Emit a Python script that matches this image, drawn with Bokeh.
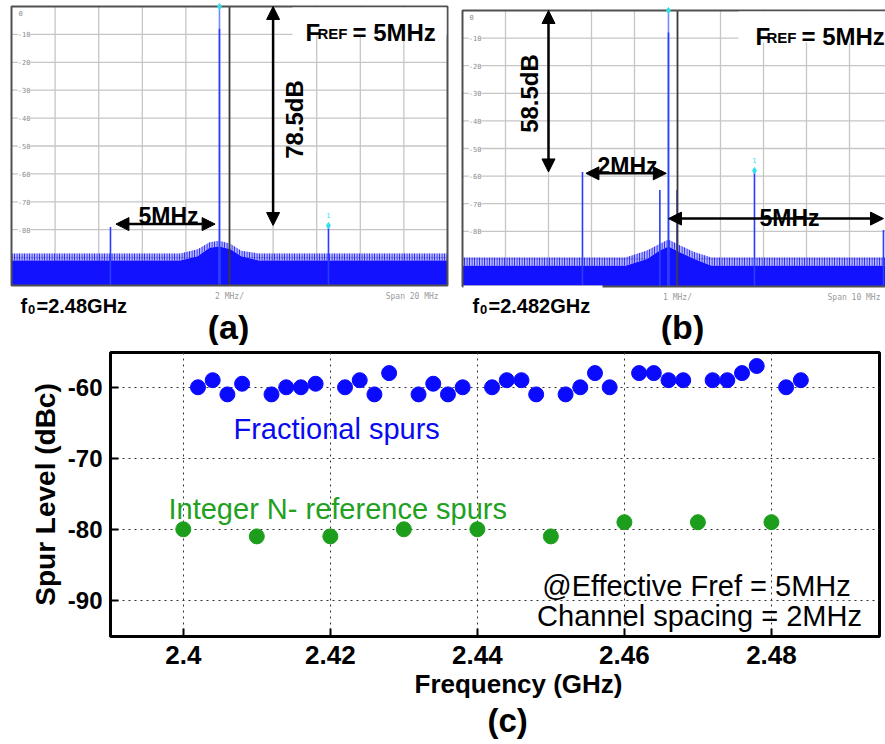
import math
from bokeh.plotting import figure
from bokeh.models import (Range1d, Label, Arrow, NormalHead, BoxAnnotation, FixedTicker, Title)
from bokeh.layouts import column, row
from bokeh.embed import file_html
from bokeh.resources import INLINE

# ---------------- data ----------------
# (a) spectrum, f0 = 2.48 GHz, span 20 MHz (2 MHz/div); x = offset from carrier (MHz), y = dB
a_carrier_level = 0.0
a_spur_offsets = [-5.0, 5.0]
a_spur_levels = [-79.0, -78.5]
a_marker_spur = 1
a_center = 0.46          # display centre relative to carrier (MHz)
a_div = 2.0              # MHz / division
a_noise_x = [-9.54, -1.8, -1.0, -0.45, 0.0, 0.5, 1.0, 1.8, 10.46]
a_noise_solid = [-91.0, -91.0, -89.5, -86.5, -86.0, -87.0, -89.5, -91.0, -91.0]
a_noise_peak = [-88.5, -88.5, -87.0, -84.5, -84.0, -85.0, -87.5, -88.5, -88.5]

# (b) spectrum, f0 = 2.482 GHz, span 10 MHz (1 MHz/div)
b_carrier_level = 0.0
b_spur_offsets = [-2.0, -0.2, 0.2, 2.0, 5.0]
b_spur_levels = [-58.5, -65.0, -65.0, -58.0, -79.5]
b_marker_spur = 3
b_center = 0.21
b_div = 1.0
b_noise_x = [-4.79, -1.0, -0.5, -0.2, 0.0, 0.25, 0.6, 1.0, 5.21]
b_noise_solid = [-92.5, -92.5, -90.0, -87.0, -85.5, -87.5, -90.0, -92.5, -92.5]
b_noise_peak = [-89.5, -89.5, -87.0, -84.5, -83.0, -85.0, -87.5, -89.5, -89.5]

db_ticks = [0, -10, -20, -30, -40, -50, -60, -70, -80, -90]
db_labels = ["0", "-10", "-20", "-30", "-40", "-50", "-60", "-70", "-80"]

# (c) spur level vs frequency
frac_freq = [2.402, 2.404, 2.406, 2.408, 2.412, 2.414, 2.416, 2.418, 2.422, 2.424,
             2.426, 2.428, 2.432, 2.434, 2.436, 2.438, 2.442, 2.444, 2.446, 2.448,
             2.452, 2.454, 2.456, 2.458, 2.462, 2.464, 2.466, 2.468, 2.472, 2.474,
             2.476, 2.478, 2.482, 2.484]
frac_level = [-60, -59, -61, -59.5, -61, -60, -60, -59.5, -60, -59,
              -61, -58, -61, -59.5, -61, -60, -60, -59, -59, -61,
              -61, -60, -58, -60, -58, -58, -59, -59, -59, -59,
              -58, -57, -60, -59]
int_freq = [2.40, 2.41, 2.42, 2.43, 2.44, 2.45, 2.46, 2.47, 2.48]
int_level = [-80, -81, -81, -80, -80, -81, -79, -79, -79]
freq_ticks = [2.40, 2.42, 2.44, 2.46, 2.48]
freq_tick_labels = ["2.4", "2.42", "2.44", "2.46", "2.48"]
level_ticks = [-90, -80, -70, -60]
level_tick_labels = ["-90", "-80", "-70", "-60"]

# ---------------- styles ----------------
NOISE = "#1212ff"
SPUR = "#2a3cff"
CARRIER = "#6e8cff"
CYAN = "#30e0e8"
GRIDC = "#c6c6c6"
FRAME = "#505050"
SANS = "Liberation Sans"
MONO = "DejaVu Sans Mono"

# page-pixel geometry (page has no margin)
A_W, B_W, TOP_H = 455, 430, 345
A_L, A_R, A_T, A_B = 11, 447, 6, 285          # analyzer (a) screen
B_L, B_R, B_T, B_B = 462, 892, 10, 286        # analyzer (b) screen (right edge off page)
C_L, C_R, C_T, C_B = 110, 879, 352, 636       # plot (c) frame

a_x0, a_x1 = a_center - 5 * a_div, a_center + 5 * a_div
b_x0, b_x1 = b_center - 5 * b_div, b_center + 5 * b_div
c_x0, c_x1 = 2.3901, 2.4947
c_y0, c_y1 = -95.1, -55.1


def mk(x0, x1, y0, y1, L, R, T, B):
    def fx(px):
        return x0 + (px - L) * (x1 - x0) / (R - L)

    def fy(py):
        return y1 - (py - T) * (y1 - y0) / (B - T)
    return fx, fy


a_px, a_py = mk(a_x0, a_x1, -100, 0, A_L, A_R, A_T, A_B)
b_px, b_py = mk(b_x0, b_x1, -100, 0, B_L, B_R, B_T, B_B)
c_px, c_py = mk(c_x0, c_x1, c_y0, c_y1, C_L, C_R, C_T, C_B)


def lab(p, x, y, text, size, font=SANS, bold=True, color="black", align="left",
        baseline="alphabetic", angle=0.0, bg=None):
    kw = {}
    if bg is not None:
        kw["background_fill_color"] = bg
    p.add_layout(Label(x=x, y=y, text=text, text_font=font, text_font_size=f"{size}px",
                       text_font_style="bold" if bold else "normal", text_color=color,
                       text_align=align, text_baseline=baseline, angle=angle, **kw))


def arrow(p, xs, ys, xe, ye):
    p.add_layout(Arrow(start=NormalHead(size=13, fill_color="black", line_color="black"),
                       end=NormalHead(size=13, fill_color="black", line_color="black"),
                       x_start=xs, y_start=ys, x_end=xe, y_end=ye,
                       line_color="black", line_width=2.5))


def analyzer(width, page_x0, x0, x1, fx, fy, center, div, nx, nsolid, npeak,
             offsets, levels, marker_idx, L, T):
    p = figure(width=width, height=TOP_H,
               x_range=Range1d(fx(page_x0), fx(page_x0 + width)),
               y_range=Range1d(fy(TOP_H), fy(0)),
               output_backend="svg", toolbar_location=None, x_axis_location=None,
               y_axis_location=None, min_border_left=0, min_border_right=0,
               min_border_top=0, min_border_bottom=0)
    p.grid.visible = False
    p.outline_line_color = None
    p.background_fill_color = "white"
    p.border_fill_color = "white"
    # screen graticule
    vt = [center + k * div for k in range(-4, 5) if k != 0]
    p.segment(x0=vt, y0=-100, x1=vt, y1=0, line_color=GRIDC, line_width=1.3)
    ht = db_ticks[1:]
    p.segment(x0=x0, y0=ht, x1=x1, y1=ht, line_color=GRIDC, line_width=1.3)
    # noise floor
    p.varea(x=nx, y1=-100, y2=nsolid, fill_color=NOISE)
    p.varea(x=nx, y1=nsolid, y2=npeak, fill_color=NOISE, fill_alpha=0.3,
            hatch_pattern="|", hatch_color=NOISE, hatch_scale=2.5, hatch_weight=1.0)
    # spurs and carrier
    p.segment(x0=offsets, y0=-100, x1=offsets, y1=levels, line_color=SPUR, line_width=1.6)
    p.segment(x0=[0.0], y0=-100, x1=[0.0], y1=[0.0], line_color=CARRIER, line_width=1.6)
    p.segment(x0=[0.0], y0=-100, x1=[0.0], y1=[-8.0], line_color=SPUR, line_width=1.6)
    # centre marker line
    p.segment(x0=[center], y0=-100, x1=[center], y1=0, line_color="#3a3a3a", line_width=1.8)
    # screen frame
    p.quad(left=[x0], right=[x1], top=[0], bottom=[-100], fill_color=None,
           line_color=FRAME, line_width=2)
    # markers
    p.scatter(x=[0.0, offsets[marker_idx]], y=[0.0, levels[marker_idx]], marker="diamond",
              size=6, color=CYAN)
    p.add_layout(Label(x=offsets[marker_idx], y=levels[marker_idx], y_offset=8, text="1",
                       text_font=MONO, text_font_size="7px", text_color=CYAN,
                       text_align="center", text_baseline="bottom"))
    # dB labels inside the screen
    for lvl, txt in zip(db_ticks, db_labels):
        if lvl == 0:
            p.add_layout(Label(x=fx(L + 7), y=fy(T + 6), text=txt,
                               text_font=MONO, text_font_size="7px", text_color="#8c8c8c",
                               text_align="left", text_baseline="middle"))
        else:
            p.add_layout(Label(x=fx(L + 19), y=lvl, text=txt, text_font=MONO,
                               text_font_size="7px", text_color="#8c8c8c", text_align="right",
                               text_baseline="middle", background_fill_color="white"))
    return p


# ---------------- panel (a) ----------------
pa = analyzer(A_W, 0, a_x0, a_x1, a_px, a_py, a_center, a_div, a_noise_x, a_noise_solid,
              a_noise_peak, a_spur_offsets, a_spur_levels, a_marker_spur, A_L, A_T)
pa.add_layout(BoxAnnotation(left=a_px(292), right=a_px(446), top=a_py(7), bottom=a_py(35),
                            fill_color="white", fill_alpha=1.0, line_color=None))
lab(pa, a_px(305), a_py(32), "F", 24)
lab(pa, a_px(317), a_py(33), "REF", 15)
lab(pa, a_px(352), a_py(32), "= 5MHz", 24)
gx = a_center + a_div
arrow(pa, gx, a_carrier_level, gx, a_spur_levels[1])
lab(pa, a_px(294), a_py(119), "78.5dB", 24, align="center", baseline="middle",
    angle=math.pi / 2)
arrow(pa, a_spur_offsets[0] + 0.25, -78.0, -0.2, -78.0)
lab(pa, a_px(168), a_py(215), "5MHz", 23, align="center")
lab(pa, a_px(20), a_py(305), "f", 20)
lab(pa, a_px(27.5), a_py(309), "0", 13)
lab(pa, a_px(36), a_py(305), "=2.48GHz", 20)
lab(pa, a_px(228), a_py(326), "(a)", 34, align="center")
lab(pa, a_center, a_py(296), "2 MHz/", 8, font=MONO, bold=False, color="#9a9a9a",
    align="center")
lab(pa, a_px(443), a_py(296), "Span  20 MHz", 8, font=MONO, bold=False, color="#9a9a9a",
    align="right")

# ---------------- panel (b) ----------------
pb = analyzer(B_W, A_W, b_x0, b_x1, b_px, b_py, b_center, b_div, b_noise_x, b_noise_solid,
              b_noise_peak, b_spur_offsets, b_spur_levels, b_marker_spur, B_L, B_T)
pb.add_layout(BoxAnnotation(left=b_px(738), right=b_px(886), top=b_py(11), bottom=b_py(42),
                            fill_color="white", fill_alpha=1.0, line_color=None))
pb.add_layout(BoxAnnotation(left=b_px(B_L + 1), right=b_px(602), top=b_py(B_B - 1),
                            bottom=b_py(300), fill_color="white", fill_alpha=1.0,
                            line_color=None))
lab(pb, b_px(755), b_py(36), "F", 24)
lab(pb, b_px(766), b_py(37), "REF", 15)
lab(pb, b_px(801), b_py(36), "= 5MHz", 24)
gx = b_center - 3 * b_div
arrow(pb, gx, b_carrier_level, gx, b_spur_levels[0])
lab(pb, b_px(529), b_py(93), "58.5dB", 24, align="center", baseline="middle",
    angle=math.pi / 2)
arrow(pb, b_spur_offsets[0] + 0.08, -59.0, -0.05, -59.0)
lab(pb, b_px(627), b_py(165), "2MHz", 23, align="center")
arrow(pb, 0.0, -75.4, b_spur_offsets[4], -75.4)
lab(pb, b_px(789), b_py(217), "5MHz", 23, align="center")
lab(pb, b_px(472), b_py(305), "f", 20)
lab(pb, b_px(479.5), b_py(309), "0", 13)
lab(pb, b_px(488), b_py(305), "=2.482GHz", 20)
lab(pb, b_px(682), b_py(326), "(b)", 34, align="center")
lab(pb, b_center, b_py(297), "1 MHz/", 8, font=MONO, bold=False, color="#9a9a9a",
    align="center")
lab(pb, b_px(827), b_py(297), "Span  10 MHz", 8, font=MONO, bold=False, color="#9a9a9a",
    align="left")

# ---------------- panel (c) ----------------
C_H = 744 - TOP_H
pc = figure(width=885, height=C_H, x_range=Range1d(c_x0, c_x1), y_range=Range1d(c_y0, c_y1),
            output_backend="svg", toolbar_location=None, min_border_left=C_L,
            min_border_right=885 - C_R, min_border_top=C_T - TOP_H,
            min_border_bottom=744 - C_B)
pc.background_fill_color = "white"
pc.border_fill_color = "white"
pc.outline_line_color = "black"
pc.outline_line_width = 3
pc.xaxis.ticker = FixedTicker(ticks=freq_ticks)
pc.yaxis.ticker = FixedTicker(ticks=level_ticks)
pc.xaxis.major_label_overrides = dict(zip(freq_ticks, freq_tick_labels))
pc.yaxis.major_label_overrides = dict(zip(level_ticks, level_tick_labels))
pc.axis.axis_line_color = None
pc.axis.major_tick_in = 8
pc.axis.major_tick_out = 0
pc.axis.major_tick_line_width = 2
pc.axis.major_tick_line_color = "black"
pc.axis.minor_tick_line_color = None
pc.axis.major_label_text_font = SANS
pc.axis.major_label_text_font_style = "bold"
pc.axis.major_label_text_color = "black"
pc.xaxis.major_label_text_font_size = "26px"
pc.yaxis.major_label_text_font_size = "24px"
pc.xaxis.major_label_standoff = 9
pc.yaxis.major_label_standoff = 8
pc.yaxis.axis_label = "Spur Level (dBc)"
pc.yaxis.axis_label_text_font = SANS
pc.yaxis.axis_label_text_font_size = "28px"
pc.yaxis.axis_label_text_font_style = "bold"
pc.yaxis.axis_label_text_color = "black"
pc.yaxis.axis_label_standoff = 4
pc.grid.grid_line_color = "#333333"
pc.grid.grid_line_dash = "2 4"
pc.grid.grid_line_width = 1

pc.scatter(frac_freq, frac_level, size=15, color="#0a0aff")
pc.scatter(int_freq, int_level, size=15, color="#1c9e1c")

lab(pc, c_px(233), c_py(428), "Fractional spurs", 29, bold=False, color="#0a0aee")
lab(pc, c_px(168), c_py(508), "Integer N- reference spurs", 29, bold=False, color="#22a022")
lab(pc, c_px(696), c_py(585), "@Effective Fref = 5MHz", 29, bold=False, align="center")
lab(pc, c_px(699), c_py(615), "Channel spacing = 2MHz", 29, bold=False, align="center")

pc.add_layout(Title(text="Frequency (GHz)", align="left", offset=414 - C_L, standoff=0,
                    text_font=SANS, text_font_size="26px", text_font_style="bold",
                    text_color="black"), "below")
pc.add_layout(Title(text="(c)", align="left", offset=487 - C_L, standoff=3,
                    text_font=SANS, text_font_size="33px", text_font_style="bold",
                    text_color="black"), "below")

layout = column(row(pa, pb), pc)
open("out.html", "w").write(file_html(layout, INLINE))
